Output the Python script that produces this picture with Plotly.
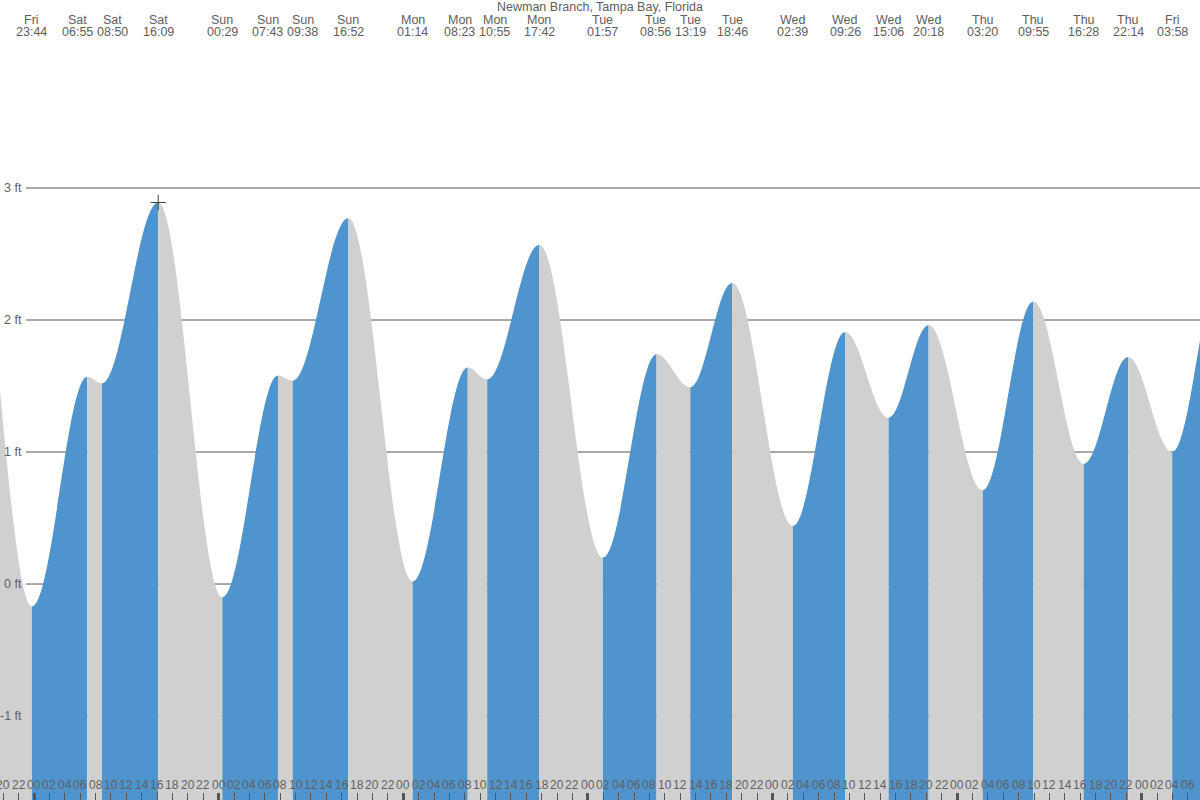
import plotly.graph_objects as go

# ---------------- data ----------------
title_text = "Newman Branch, Tampa Bay, Florida"

ext_day = ["Fri", "Fri", "Sat", "Sat", "Sat", "Sun", "Sun", "Sun", "Sun",
           "Mon", "Mon", "Mon", "Mon", "Tue", "Tue", "Tue", "Tue",
           "Wed", "Wed", "Wed", "Wed", "Thu", "Thu", "Thu", "Thu", "Fri", "Fri"]
ext_time = ["15:40", "23:44", "06:55", "08:50", "16:09", "00:29", "07:43", "09:38", "16:52",
            "01:14", "08:23", "10:55", "17:42", "01:57", "08:56", "13:19", "18:46",
            "02:39", "09:26", "15:06", "20:18", "03:20", "09:55", "16:28", "22:14", "03:58", "10:30"]
ext_ft = [2.95, -0.17, 1.57, 1.52, 2.89, -0.10, 1.58, 1.54, 2.77,
          0.02, 1.64, 1.55, 2.57, 0.20, 1.74, 1.49, 2.28,
          0.44, 1.91, 1.26, 1.96, 0.71, 2.14, 0.91, 1.72, 1.00, 2.45]

y_ticks = [3, 2, 1, 0, -1]
y_tick_labels = ["3 ft", "2 ft", "1 ft", "0 ft", "-1 ft"]

# ---------------- layout constants ----------------
W, H = 1200, 800
HOURS_SPAN = 156.0
PX_PER_H = W / HOURS_SPAN
X_START = -34 / PX_PER_H          # hours relative to Saturday 00:00
X_END = X_START + HOURS_SPAN
Y_MIN, Y_MAX = -1.636, 4.424

BLUE = "#4f94cd"
GREY = "#d0d0d0"
TXT = "#606060"
GRID = "#555555"
FONT = "Liberation Sans, Arial, sans-serif"

# hours since Saturday 00:00 for each extreme
ext_hours = []
day_idx = -1
prev = ext_day[0]
for d, t in zip(ext_day, ext_time):
    if d != prev:
        day_idx += 1
        prev = d
    hh, mm = t.split(":")
    ext_hours.append(day_idx * 24 + int(hh) + int(mm) / 60.0)

tick_hours = list(range(-4, int(X_END) + 2, 2))
tick_labels = [f"{h % 24:02d}" for h in tick_hours]
midnight_hours = [h for h in tick_hours if h % 24 == 0]

fig = go.Figure()

shapes = []
# gridlines (behind the tide fill)
for v in y_ticks:
    shapes.append(dict(type="line", xref="paper", yref="y", x0=26 / W, x1=1, y0=v, y1=v,
                       line=dict(color=GRID, width=1), layer="below"))

# tide fill: one filled segment between each pair of consecutive extremes
K = 0.3634
for i in range(len(ext_hours) - 1):
    t1, t2 = ext_hours[i], ext_hours[i + 1]
    h1, h2 = ext_ft[i], ext_ft[i + 1]
    d = t2 - t1
    path = (f"M {t1:.4f},{Y_MIN} L {t1:.4f},{h1} "
            f"C {t1 + K * d:.4f},{h1} {t2 - K * d:.4f},{h2} {t2:.4f},{h2} "
            f"L {t2:.4f},{Y_MIN} Z")
    shapes.append(dict(type="path", xref="x", yref="y", path=path,
                       fillcolor=BLUE if h2 > h1 else GREY,
                       line=dict(width=0), layer="between"))

# peak marker
vis = [i for i, h in enumerate(ext_hours) if X_START <= h <= X_END]
imax = max(vis, key=lambda i: ext_ft[i])
fig.add_trace(go.Scatter(x=[ext_hours[imax]], y=[ext_ft[imax]], mode="markers",
                         marker=dict(symbol="cross-thin", size=11,
                                     line=dict(color="#444444", width=1)),
                         hoverinfo="skip", showlegend=False))
# dummy trace for the overlay axis carrying the midnight ticks
fig.add_trace(go.Scatter(x=[X_START], y=[0], xaxis="x2", mode="markers",
                         marker=dict(opacity=0), hoverinfo="skip", showlegend=False))

annotations = []
annotations.append(dict(text=title_text, xref="paper", yref="paper", x=0.5, y=1 - 6.5 / H,
                        xanchor="center", yanchor="middle", showarrow=False,
                        font=dict(family=FONT, size=12.5, color=TXT)))

# label positions pushed apart when too close
lab_idx = vis
lab_x = [ext_hours[i] for i in lab_idx]
min_sep = 35 / PX_PER_H
for _ in range(50):
    for j in range(len(lab_x) - 1):
        gap = lab_x[j + 1] - lab_x[j]
        if gap < min_sep:
            push = (min_sep - gap) / 2
            lab_x[j] -= push
            lab_x[j + 1] += push
for i, lx in zip(lab_idx, lab_x):
    annotations.append(dict(text=ext_day[i], xref="x", yref="paper", x=lx, y=1 - 19.5 / H,
                            xanchor="center", yanchor="middle", showarrow=False,
                            font=dict(family=FONT, size=12.5, color=TXT)))
    annotations.append(dict(text=ext_time[i], xref="x", yref="paper", x=lx, y=1 - 31.5 / H,
                            xanchor="center", yanchor="middle", showarrow=False,
                            font=dict(family=FONT, size=12.5, color=TXT)))

for v, lab in zip(y_ticks, y_tick_labels):
    annotations.append(dict(text=lab, xref="paper", yref="y", x=24 / W, y=v,
                            xanchor="right", yanchor="middle", showarrow=False,
                            font=dict(family=FONT, size=12.5, color=TXT)))

# hour labels along the bottom (drawn as text so the edge labels may be cut, as in the reference)
for h, lab in zip(tick_hours, tick_labels):
    annotations.append(dict(text=lab, xref="x", yref="paper", x=h, y=1 - 785 / H,
                            xanchor="center", yanchor="middle", showarrow=False,
                            font=dict(family=FONT, size=12, color=TXT)))

fig.update_layout(
    width=W, height=H, margin=dict(l=0, r=0, t=0, b=0),
    paper_bgcolor="white", plot_bgcolor="white",
    showlegend=False, shapes=shapes, annotations=annotations,
    xaxis=dict(range=[X_START, X_END], tickmode="array", tickvals=tick_hours,
               ticks="inside", ticklen=7, tickwidth=1,
               tickcolor="#555555", showticklabels=False,
               showgrid=False, zeroline=False, showline=False, fixedrange=True),
    xaxis2=dict(range=[X_START, X_END], overlaying="x", anchor="y", side="bottom",
                tickmode="array", tickvals=midnight_hours, ticks="inside", ticklen=7,
                tickwidth=3, tickcolor="#555555", showticklabels=False,
                showgrid=False, zeroline=False, showline=False),
    yaxis=dict(range=[Y_MIN, Y_MAX], showgrid=False, zeroline=False,
               showticklabels=False, ticks="", showline=False),
)

fig.write_html("out.html", config={"displayModeBar": False},
               post_script="document.body.style.margin='0';document.body.style.overflow='hidden';")
